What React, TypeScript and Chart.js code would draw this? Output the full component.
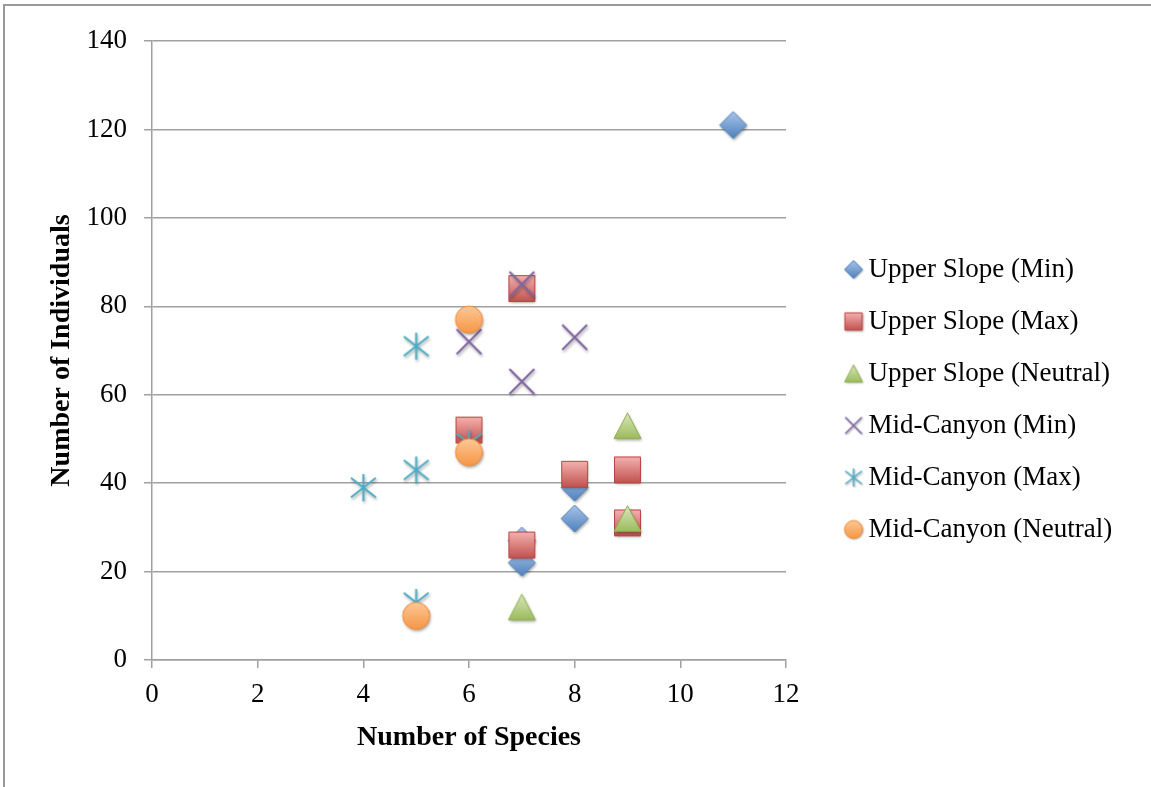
import React, { useEffect, useRef } from 'react';
import { Chart, registerables } from 'chart.js';

Chart.register(...registerables);

// ---------- data ----------
const seriesNames = [
  'Upper Slope (Min)',
  'Upper Slope (Max)',
  'Upper Slope (Neutral)',
  'Mid-Canyon (Min)',
  'Mid-Canyon (Max)',
  'Mid-Canyon (Neutral)',
];

const upperSlopeMinX = [11, 8, 8, 7, 7];
const upperSlopeMinY = [121, 39, 32, 27, 22];

const upperSlopeMaxX = [7, 6, 8, 9, 9, 7];
const upperSlopeMaxY = [84, 52, 42, 43, 31, 26];

const upperSlopeNeutralX = [9, 9, 7];
const upperSlopeNeutralY = [53, 32, 12];

const midCanyonMinX = [7, 6, 8, 7];
const midCanyonMinY = [85, 72, 73, 63];

const midCanyonMaxX = [5, 4, 5, 6, 5];
const midCanyonMaxY = [71, 39, 43, 49, 13];

const midCanyonNeutralX = [6, 6, 5];
const midCanyonNeutralY = [77, 47, 10];

const xTickValues = [0, 2, 4, 6, 8, 10, 12];
const yTickValues = [0, 20, 40, 60, 80, 100, 120, 140];

const xTitle = 'Number of Species';
const yTitle = 'Number of Individuals';

// ---------- styling ----------
const FONT = '"Liberation Serif", "Times New Roman", serif';
const GRID = '#a0a0a0';

type Kind = 'diamond' | 'square' | 'triangle' | 'x' | 'star' | 'circle';
const kinds: Kind[] = ['diamond', 'square', 'triangle', 'x', 'star', 'circle'];

const palette: Record<Kind, { top: string; bottom: string; border: string }> = {
  diamond: { top: '#a9c4e8', bottom: '#4f81bd', border: '#4a7ebb' },
  square: { top: '#f4b3b1', bottom: '#c0504d', border: '#b9413e' },
  triangle: { top: '#d9e7bf', bottom: '#9bbb59', border: '#8fae50' },
  x: { top: '#8064a2', bottom: '#8064a2', border: '#8064a2' },
  star: { top: '#4bacc6', bottom: '#4bacc6', border: '#4bacc6' },
  circle: { top: '#fcc896', bottom: '#f79646', border: '#ef8a36' },
};

function makeMarker(kind: Kind, size: number): HTMLCanvasElement {
  const pad = 5;
  const dim = Math.ceil(size + pad * 2);
  const c = document.createElement('canvas');
  c.width = dim;
  c.height = dim;
  const ctx = c.getContext('2d')!;
  const cx = dim / 2;
  const cy = dim / 2;
  const h = size / 2;
  const col = palette[kind];
  ctx.shadowColor = 'rgba(0,0,0,0.35)';
  ctx.shadowBlur = size > 20 ? 3 : 2;
  ctx.shadowOffsetX = 1;
  ctx.shadowOffsetY = size > 20 ? 2 : 1;

  if (kind === 'x' || kind === 'star') {
    ctx.strokeStyle = col.border;
    ctx.lineWidth = size > 20 ? 2 : 1.5;
    ctx.lineCap = 'butt';
    ctx.beginPath();
    if (kind === 'x') {
      const a = h * 0.92;
      ctx.moveTo(cx - a, cy - a);
      ctx.lineTo(cx + a, cy + a);
      ctx.moveTo(cx + a, cy - a);
      ctx.lineTo(cx - a, cy + a);
    } else {
      const a = h * 0.92;
      const b = h * 0.72;
      ctx.moveTo(cx - a, cy - b);
      ctx.lineTo(cx + a, cy + b);
      ctx.moveTo(cx + a, cy - b);
      ctx.lineTo(cx - a, cy + b);
      ctx.moveTo(cx, cy - h);
      ctx.lineTo(cx, cy + h);
    }
    ctx.stroke();
    return c;
  }

  ctx.beginPath();
  if (kind === 'diamond') {
    ctx.moveTo(cx, cy - h);
    ctx.lineTo(cx + h, cy);
    ctx.lineTo(cx, cy + h);
    ctx.lineTo(cx - h, cy);
    ctx.closePath();
  } else if (kind === 'square') {
    const s = h * 0.96;
    ctx.rect(cx - s, cy - s, s * 2, s * 2);
  } else if (kind === 'triangle') {
    const th = h * 0.95;
    ctx.moveTo(cx, cy - th);
    ctx.lineTo(cx + h, cy + th);
    ctx.lineTo(cx - h, cy + th);
    ctx.closePath();
  } else {
    ctx.arc(cx, cy, h, 0, Math.PI * 2);
  }
  const g = ctx.createLinearGradient(0, cy - h, 0, cy + h);
  g.addColorStop(0, col.top);
  g.addColorStop(1, col.bottom);
  ctx.fillStyle = g;
  ctx.fill();
  ctx.shadowColor = 'rgba(0,0,0,0)';
  ctx.strokeStyle = col.border;
  ctx.lineWidth = 1;
  ctx.stroke();
  return c;
}

function zip(xs: number[], ys: number[]) {
  return xs.map((x, i) => ({ x, y: ys[i] }));
}

const seriesX = [upperSlopeMinX, upperSlopeMaxX, upperSlopeNeutralX, midCanyonMinX, midCanyonMaxX, midCanyonNeutralX];
const seriesY = [upperSlopeMinY, upperSlopeMaxY, upperSlopeNeutralY, midCanyonMinY, midCanyonMaxY, midCanyonNeutralY];

const CANVAS_W = 1146;
const CANVAS_H = 781;
const LEGEND_FONT = 27;
const LEGEND_PAD = 25;
const LEGEND_BOX = 3;
const TICK_FONT = 27;

export default function App() {
  const ref = useRef<HTMLCanvasElement | null>(null);

  useEffect(() => {
    if (!ref.current) return;
    const chartMarkers = kinds.map((k) => makeMarker(k, 27));
    const legendMarkers = kinds.map((k) => makeMarker(k, 18));

    // measure legend text to place the legend at a fixed x
    const mctx = document.createElement('canvas').getContext('2d')!;
    mctx.font = `${LEGEND_FONT}px ${FONT}`;
    const textW = Math.max(...seriesNames.map((n) => mctx.measureText(n).width));
    const legendLeft = 822;
    const legendWidth = LEGEND_PAD + LEGEND_BOX + LEGEND_FONT / 2 + textW + 10;
    const padRight = Math.max(0, CANVAS_W - legendLeft - legendWidth);

    const datasets = seriesNames.map((name, i) => ({
      label: name,
      data: zip(seriesX[i], seriesY[i]),
      pointStyle: chartMarkers[i] as any,
      pointRadius: 13,
      pointHoverRadius: 13,
      showLine: false,
      order: seriesNames.length - i,
      yAxisID: 'y',
      xAxisID: 'x',
    }));

    const chart = new Chart(ref.current, {
      type: 'scatter',
      data: { datasets },
      options: {
        animation: false,
        responsive: false,
        events: [],
        layout: { padding: { top: 35, bottom: 29, left: 0, right: padRight } },
        plugins: {
          tooltip: { enabled: false },
          legend: {
            display: true,
            position: 'right',
            align: 'center',
            maxWidth: 600,
            labels: {
              usePointStyle: true,
              boxWidth: LEGEND_BOX,
              boxHeight: LEGEND_BOX,
              padding: LEGEND_PAD,
              color: '#000',
              font: { family: FONT, size: LEGEND_FONT },
              generateLabels: (ch: any) =>
                ch.data.datasets.map((ds: any, i: number) => ({
                  text: ds.label,
                  pointStyle: legendMarkers[i],
                  fillStyle: 'rgba(0,0,0,0)',
                  strokeStyle: 'rgba(0,0,0,0)',
                  lineWidth: 0,
                  hidden: false,
                  datasetIndex: i,
                  fontColor: '#000',
                })),
            },
          },
        },
        scales: {
          x: {
            type: 'linear',
            position: 'bottom',
            min: 0,
            max: 12,
            afterBuildTicks: (s: any) => {
              s.ticks = xTickValues.map((v) => ({ value: v }));
            },
            ticks: { color: '#000', font: { family: FONT, size: TICK_FONT }, padding: 11, maxRotation: 0 },
            grid: { drawOnChartArea: false, drawTicks: true, tickLength: 8, color: GRID, lineWidth: 1.5 },
            border: { display: true, color: GRID, width: 1.5 },
            title: {
              display: true,
              text: xTitle,
              color: '#000',
              font: { family: FONT, size: 28, weight: 'bold' },
              padding: { top: 0, bottom: 3 },
            },
            afterFit: (s: any) => {
              s.height = 98;
            },
          },
          y: {
            type: 'linear',
            position: 'left',
            min: 0,
            max: 140,
            afterBuildTicks: (s: any) => {
              s.ticks = yTickValues.map((v) => ({ value: v }));
            },
            ticks: { color: '#000', font: { family: FONT, size: TICK_FONT }, padding: 17 },
            grid: { drawOnChartArea: true, drawTicks: true, tickLength: 8, color: GRID, lineWidth: 1.5 },
            border: { display: true, color: GRID, width: 1.5 },
            title: {
              display: true,
              text: yTitle,
              color: '#000',
              font: { family: FONT, size: 28, weight: 'bold' },
              padding: { top: 40, bottom: 0 },
            },
            afterFit: (s: any) => {
              s.width = 147;
            },
          },
          yR: {
            type: 'linear',
            position: 'right',
            display: true,
            min: 0,
            max: 140,
            grid: { display: false, drawTicks: false },
            border: { display: false },
            ticks: { display: false },
            afterFit: (s: any) => {
              s.width = 41;
            },
          },
        },
      } as any,
    });
    return () => chart.destroy();
  }, []);

  return (
    <div
      style={{
        position: 'absolute',
        left: 3,
        top: 4,
        width: CANVAS_W,
        height: CANVAS_H,
        borderLeft: '2px solid #9a9a9a',
        borderTop: '2px solid #9a9a9a',
        background: '#fff',
      }}
    >
      <canvas ref={ref} width={CANVAS_W} height={CANVAS_H} style={{ display: 'block', width: CANVAS_W, height: CANVAS_H }} />
    </div>
  );
}
